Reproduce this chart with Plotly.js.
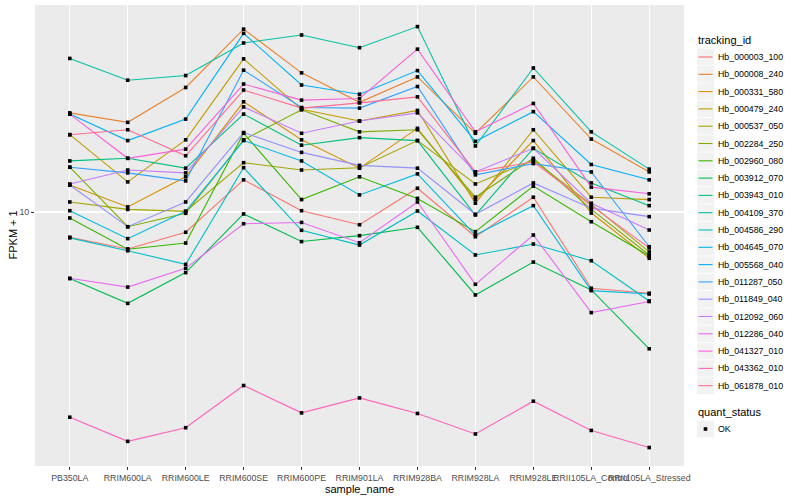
<!DOCTYPE html>
<html><head><meta charset="utf-8">
<script src="https://cdn.plot.ly/plotly-3.0.1.min.js"></script>
<style>html,body{margin:0;padding:0;background:#fff}#chart{width:800px;height:500px}</style>
</head><body><div id="chart"></div>
<script>
// categories
const samples = ["PB350LA","RRIM600LA","RRIM600LE","RRIM600SE","RRIM600PE","RRIM901LA","RRIM928BA","RRIM928LA","RRIM928LE","RRII105LA_Control","RRII105LA_Stressed"];
// series names
const trackingIds = ["Hb_000003_100","Hb_000008_240","Hb_000331_580","Hb_000479_240","Hb_000537_050","Hb_002284_250","Hb_002960_080","Hb_003912_070","Hb_003943_010","Hb_004109_370","Hb_004586_290","Hb_004645_070","Hb_005568_040","Hb_011287_050","Hb_011849_040","Hb_012092_060","Hb_012286_040","Hb_041327_010","Hb_043362_010","Hb_061878_010"];
// FPKM + 1 values per gene, in sample order
const fpkm_000003_100 = [8.24, 7.53, 8.56, 12.8, 10.1, 9.07, 12.0, 8.27, 11.2, 5.57, 5.36];
const fpkm_000008_240 = [21.4, 19.9, 26.0, 40.7, 29.1, 23.2, 28.2, 18.3, 28.2, 17.5, 13.6];
const fpkm_000331_580 = [12.3, 10.4, 13.1, 23.3, 17.4, 14.0, 19.0, 11.0, 17.3, 9.92, 7.01];
const fpkm_000479_240 = [18.1, 12.6, 17.4, 32.4, 22.0, 20.1, 21.8, 10.7, 18.8, 11.2, 11.0];
const fpkm_000537_050 = [10.8, 10.2, 10.05, 14.6, 13.8, 14.05, 17.3, 12.4, 14.9, 10.6, 7.36];
const fpkm_002284_250 = [14.1, 8.93, 9.9, 17.4, 21.9, 18.5, 18.8, 11.2, 15.1, 10.2, 7.19];
const fpkm_002960_080 = [9.55, 7.51, 7.88, 18.3, 11.0, 13.1, 11.1, 8.60, 12.2, 9.28, 7.13];
const fpkm_003912_070 = [6.0, 4.96, 6.28, 9.85, 7.97, 8.34, 8.89, 5.29, 6.81, 5.50, 3.50];
const fpkm_003943_010 = [14.8, 15.1, 14.0, 21.2, 16.7, 17.7, 17.3, 9.77, 16.3, 12.5, 10.5];
const fpkm_004109_370 = [32.5, 27.5, 28.5, 36.6, 38.9, 35.3, 41.5, 16.6, 30.2, 18.5, 13.9];
const fpkm_004586_290 = [8.2, 7.43, 6.69, 14.05, 8.69, 7.76, 10.08, 7.19, 7.82, 6.88, 5.05];
const fpkm_004645_070 = [10.1, 8.15, 10.05, 17.3, 14.8, 11.4, 13.4, 8.38, 10.5, 5.47, 5.33];
const fpkm_005568_040 = [21.2, 17.3, 20.4, 39.4, 26.5, 24.7, 29.6, 17.2, 21.6, 14.4, 12.8];
const fpkm_011287_050 = [14.1, 13.5, 12.7, 29.7, 22.3, 22.2, 26.2, 13.3, 14.5, 13.6, 7.66];
const fpkm_011849_040 = [12.3, 8.93, 10.8, 18.4, 15.8, 14.3, 14.0, 9.83, 12.5, 10.3, 9.65];
const fpkm_012092_060 = [12.4, 13.8, 13.5, 22.4, 18.3, 20.1, 21.4, 13.6, 16.3, 10.7, 8.71];
const fpkm_012286_040 = [6.01, 5.62, 6.49, 9.14, 9.23, 7.90, 10.8, 5.74, 8.38, 4.62, 5.03];
const fpkm_041327_010 = [21.2, 15.1, 16.2, 26.7, 23.6, 23.9, 34.9, 18.5, 23.0, 12.1, 11.5];
const fpkm_043362_010 = [2.07, 1.72, 1.91, 2.64, 2.14, 2.40, 2.13, 1.82, 2.34, 1.87, 1.64];
const fpkm_061878_010 = [18.1, 18.8, 15.4, 25.5, 22.2, 23.1, 24.2, 13.6, 14.7, 10.5, 7.59];
const seriesValues = [fpkm_000003_100, fpkm_000008_240, fpkm_000331_580, fpkm_000479_240, fpkm_000537_050,
  fpkm_002284_250, fpkm_002960_080, fpkm_003912_070, fpkm_003943_010, fpkm_004109_370,
  fpkm_004586_290, fpkm_004645_070, fpkm_005568_040, fpkm_011287_050, fpkm_011849_040,
  fpkm_012092_060, fpkm_012286_040, fpkm_041327_010, fpkm_043362_010, fpkm_061878_010];
const quantStatus = ["OK"];
const yTickVals = [10];
const yTickText = ["10"];

// ggplot2 default hue palette for 20 levels
const colors = ["#F8766D","#EA8331","#D89000","#C09B00","#A3A500","#7CAE00","#39B600","#00BB4E","#00BF7D","#00C1A3",
  "#00BFC4","#00BAE0","#00B0F6","#35A2FF","#9590FF","#C77CFF","#E76BF3","#FA62DB","#FF62BC","#FF6C91"];

const FONT = "Liberation Sans, Arial, Helvetica, sans-serif";
const W = 800, H = 500;
const M = {l: 35, r: 116, t: 5, b: 34};
const PW = W - M.l - M.r, PH = H - M.t - M.b;
const px2x = p => (p - M.l) / PW;
const py2y = p => (H - M.b - p) / PH;

const traces = [];
trackingIds.forEach((id, i) => {
  traces.push({
    type: "scatter", mode: "lines", name: id,
    x: samples, y: seriesValues[i],
    line: {color: colors[i], width: 1.1},
    showlegend: false, hoverinfo: "x+y+name"
  });
});
// points (quant_status = OK)
const px = [], py = [];
seriesValues.forEach(v => v.forEach((val, j) => { px.push(samples[j]); py.push(val); }));
traces.push({
  type: "scatter", mode: "markers", name: quantStatus[0], x: px, y: py,
  marker: {symbol: "square", size: 3.6, color: "#000000"},
  showlegend: false
});

// manual ggplot-style legend
const shapes = [], annotations = [];
const legX = 697, keyW = 17, step = 17.3, firstY = 57;
annotations.push({xref: "paper", yref: "paper", x: px2x(696), y: py2y(40.5), xanchor: "left", yanchor: "middle",
  text: "tracking_id", showarrow: false, font: {family: FONT, size: 11, color: "#000"}});
trackingIds.forEach((id, i) => {
  const cy = firstY + i * step;
  shapes.push({type: "rect", xref: "paper", yref: "paper", x0: px2x(legX), x1: px2x(legX + keyW),
    y0: py2y(cy - step / 2 + 0.4), y1: py2y(cy + step / 2 - 0.4), fillcolor: "#F2F2F2", line: {width: 0}, layer: "below"});
  shapes.push({type: "line", xref: "paper", yref: "paper", x0: px2x(legX + 1.5), x1: px2x(legX + keyW - 1.5),
    y0: py2y(cy), y1: py2y(cy), line: {color: colors[i], width: 1.1}});
  annotations.push({xref: "paper", yref: "paper", x: px2x(716), y: py2y(cy), xanchor: "left", yanchor: "middle",
    text: id, showarrow: false, font: {family: FONT, size: 8.8, color: "#000"}});
});
annotations.push({xref: "paper", yref: "paper", x: px2x(696), y: py2y(412), xanchor: "left", yanchor: "middle",
  text: "quant_status", showarrow: false, font: {family: FONT, size: 11, color: "#000"}});
shapes.push({type: "rect", xref: "paper", yref: "paper", x0: px2x(legX), x1: px2x(legX + keyW),
  y0: py2y(429 - 8.3), y1: py2y(429 + 8.3), fillcolor: "#F2F2F2", line: {width: 0}, layer: "below"});
shapes.push({type: "rect", xref: "paper", yref: "paper", x0: px2x(legX + 6.7), x1: px2x(legX + 10.3),
  y0: py2y(429 - 1.8), y1: py2y(429 + 1.8), fillcolor: "#000", line: {width: 0}});
annotations.push({xref: "paper", yref: "paper", x: px2x(716), y: py2y(429), xanchor: "left", yanchor: "middle",
  text: quantStatus[0], showarrow: false, font: {family: FONT, size: 8.8, color: "#000"}});
// axis titles
annotations.push({xref: "paper", yref: "paper", x: 0.5, y: py2y(488.5), xanchor: "center", yanchor: "middle",
  text: "sample_name", showarrow: false, font: {family: FONT, size: 11, color: "#000"}});
annotations.push({xref: "paper", yref: "paper", x: px2x(12), y: 0.5, xanchor: "center", yanchor: "middle",
  text: "FPKM + 1", textangle: -90, showarrow: false, font: {family: FONT, size: 11, color: "#000"}});

const layout = {
  width: W, height: H,
  margin: M,
  paper_bgcolor: "#FFFFFF", plot_bgcolor: "#EBEBEB",
  font: {family: FONT, color: "#000"},
  showlegend: false,
  xaxis: {
    type: "category", categoryorder: "array", categoryarray: samples,
    range: [-0.6, samples.length - 0.4], tickangle: 0,
    showgrid: true, gridcolor: "#FFFFFF", gridwidth: 1.1, zeroline: false, showline: false,
    ticks: "outside", ticklen: 3, tickcolor: "#333333", tickwidth: 1,
    tickfont: {family: FONT, size: 8.8, color: "#4D4D4D"}, fixedrange: true
  },
  yaxis: {
    type: "log", range: [0.1533, 1.69],
    tickmode: "array", tickvals: yTickVals, ticktext: yTickText,
    showgrid: true, gridcolor: "#FFFFFF", gridwidth: 1.1, zeroline: false, showline: false,
    ticks: "outside", ticklen: 3, tickcolor: "#333333", tickwidth: 1,
    tickfont: {family: FONT, size: 8.8, color: "#4D4D4D"}, fixedrange: true
  },
  shapes: shapes,
  annotations: annotations
};
Plotly.newPlot("chart", traces, layout, {displayModeBar: false, staticPlot: true});
</script>
</body></html>
